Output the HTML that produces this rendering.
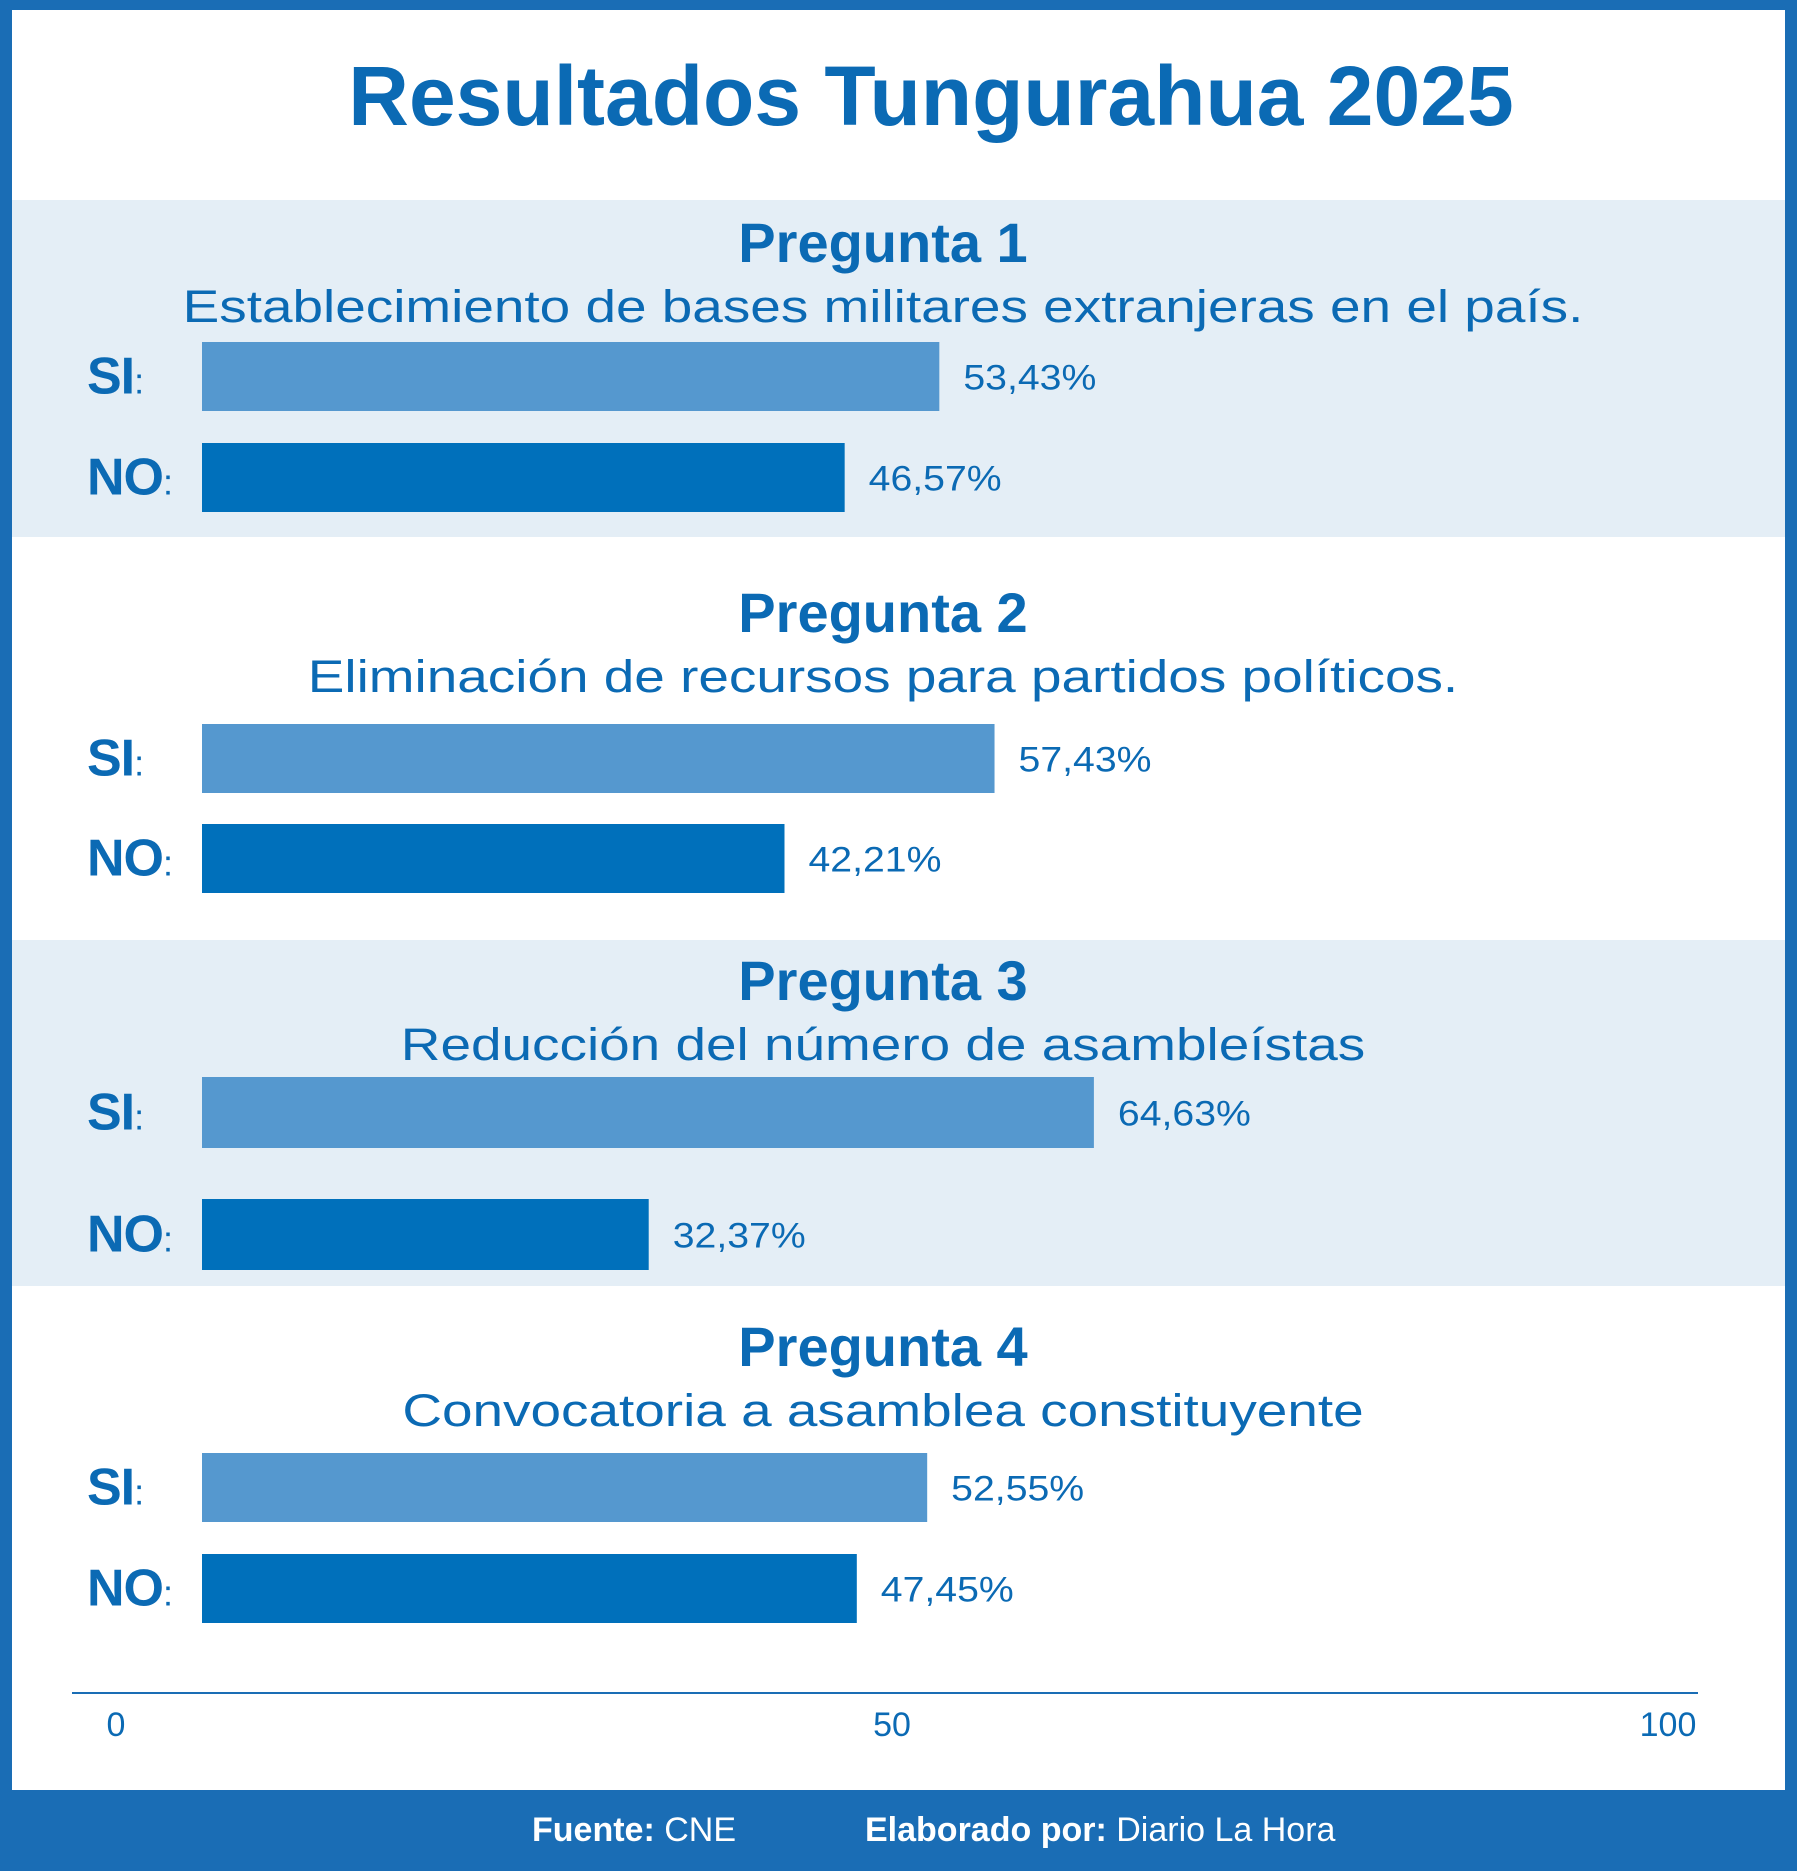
<!DOCTYPE html>
<html><head><meta charset="utf-8"><style>
html,body{margin:0;padding:0;background:#fff}
svg{display:block;font-family:"Liberation Sans",sans-serif}
</style></head><body>
<svg id="chart" width="1797" height="1871" viewBox="0 0 1797 1871" xmlns="http://www.w3.org/2000/svg">
<rect x="0" y="0" width="1797" height="1871" fill="#1a6db5"/>
<rect x="12" y="10" width="1773" height="1780" fill="#ffffff"/>
<rect x="12" y="200" width="1773" height="337" fill="#e4eef6"/>
<rect x="12" y="940" width="1773" height="346" fill="#e4eef6"/>
<text x="931" y="125" text-anchor="middle" font-size="84" font-weight="bold" fill="#0b6ab4">Resultados Tungurahua 2025</text>
<g id="groups"></g>
<line x1="72" y1="1693" x2="1698" y2="1693" stroke="#1a6db5" stroke-width="2"/>
<g id="ticks"></g>
<text x="532" y="1841" font-size="34" fill="#fff"><tspan font-weight="bold">Fuente:</tspan> CNE</text>
<text x="865" y="1841" font-size="34" fill="#fff"><tspan font-weight="bold">Elaborado por:</tspan> Diario La Hora</text>
</svg>
<script>
const questions = ["Pregunta 1","Pregunta 2","Pregunta 3","Pregunta 4"];
const subtitles = ["Establecimiento de bases militares extranjeras en el país.","Eliminación de recursos para partidos políticos.","Reducción del número de asambleístas","Convocatoria a asamblea constituyente"];
const siValues = [53.43,57.43,64.63,52.55];
const noValues = [46.57,42.21,32.37,47.45];
const siLabels = ["53,43%","57,43%","64,63%","52,55%"];
const noLabels = ["46,57%","42,21%","32,37%","47,45%"];
const tickValues = [0,50,100];

const NS="http://www.w3.org/2000/svg";
const layout=[{h:262,s:322,si:342,no:443,bh:69},{h:632,s:692,si:724,no:824,bh:69},{h:1000,s:1060,si:1077,no:1199,bh:71},{h:1366,s:1426,si:1453,no:1554,bh:69}];
const x0=202, k=13.8;
function xs(v){return x0+v*k;}
function ax(v){return 116+(1668-116)*v/100;}
function el(t,a,p,txt){const e=document.createElementNS(NS,t);for(const n in a)e.setAttribute(n,a[n]);if(txt!==undefined)e.textContent=txt;p.appendChild(e);return e;}
function stretch(e,f){const w=e.getComputedTextLength();e.setAttribute('textLength',(w*f).toFixed(1));e.setAttribute('lengthAdjust','spacingAndGlyphs');}
const g=document.getElementById('groups');
questions.forEach((q,i)=>{
  const L=layout[i];
  const h=el('text',{x:883,y:L.h,'text-anchor':'middle','font-size':56,'font-weight':'bold',fill:'#0b6ab4'},g,q);
  
  
  const s=el('text',{x:883,y:L.s,'text-anchor':'middle','font-size':45,fill:'#0b6ab4'},g,subtitles[i]);
  
  
  stretch(s,1.22);
  [[ 'SI',siValues[i],siLabels[i],L.si,'#5598cf'],['NO',noValues[i],noLabels[i],L.no,'#0070bb']].forEach(([lab,v,vl,y,c])=>{
    const t=el('text',{x:87,y:y+L.bh/2+17,'font-size':52,'font-weight':'bold',fill:'#0b6ab4','letter-spacing':'-1'},g);
    
    
    el('tspan',{},t,lab);el('tspan',{'font-size':36,'font-weight':'normal'},t,':');
    const r=el('rect',{x:x0,y:y,width:xs(v)-x0,height:L.bh,fill:c},g);
    
    
    const vt=el('text',{x:xs(v)+24,y:y+L.bh/2+13,'font-size':35,fill:'#0b6ab4'},g,vl);
    
    
    stretch(vt,1.12);
  });
});
const tg=document.getElementById('ticks');
tickValues.forEach(v=>{
  const t=el('text',{x:ax(v),y:1736,'text-anchor':'middle','font-size':34,fill:'#0b6ab4'},tg,String(v));
  
  
});
</script>
</body></html>
